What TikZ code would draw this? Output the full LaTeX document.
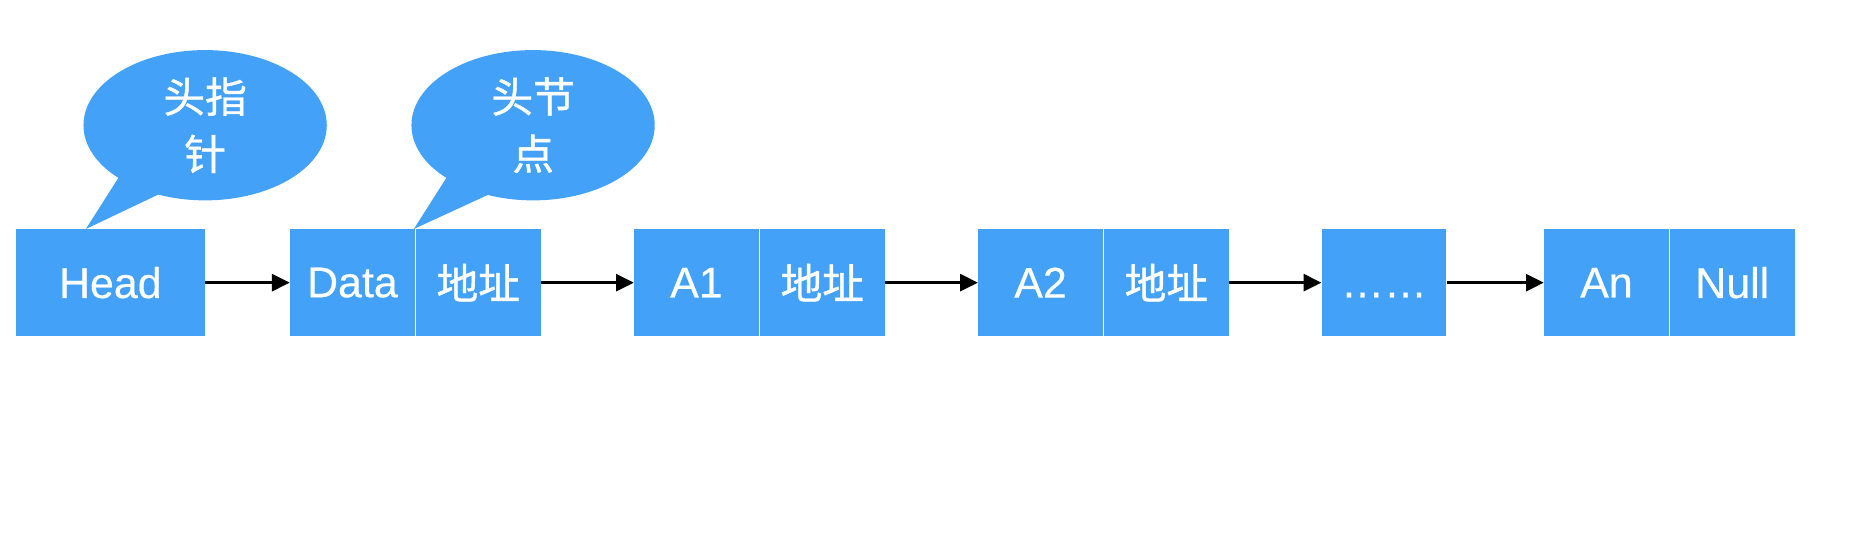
\documentclass[tikz,border=0pt]{standalone}
\usepackage{fontspec}
\setmainfont[FakeBold=0.4]{Liberation Sans}
\newfontfamily\cjk[FakeBold=1]{Noto Sans CJK SC}
\usetikzlibrary{shapes.geometric,arrows.meta}
\definecolor{cellblue}{RGB}{67,162,248}
\begin{document}
\begin{tikzpicture}[x=1pt,y=-1pt,
  cell/.style={fill=cellblue,text=white,inner sep=0pt,minimum width=104.5pt,minimum height=90pt,font=\fontsize{36}{40}\selectfont},
  cjkcell/.style={cell,font=\cjk\fontsize{35}{40}\selectfont},
  bubble/.style={ellipse,fill=cellblue,text=white,inner sep=0pt,minimum width=204pt,minimum height=126pt,align=center,font=\cjk\fontsize{35}{48}\selectfont},
  link/.style={line width=3pt,-{Triangle[length=15pt,width=14pt]}}]
\useasboundingbox (0,0) rectangle (1568,461);
% cells
\node[cell,minimum width=159pt] (head) at (92.5,237) {Head};
\node[cell] (data) at (295.5,237) {Data};
\node[cjkcell] (addr1) at (401,237) {地址};
\node[cell] (a1) at (584,237) {A1};
\node[cjkcell] (addr2) at (689.5,237) {地址};
\node[cell] (a2) at (872.5,237) {A2};
\node[cjkcell] (addr3) at (978,237) {地址};
\node[cell] (dots) at (1160.5,237) {\vphantom{H}……};
\node[cell] (an) at (1347,237) {An};
\node[cell] (null) at (1452.5,237) {Null};
% links
\draw[link] (head.east) -- (data.west);
\draw[link] (addr1.east) -- (a1.west);
\draw[link] (addr2.east) -- (a2.west);
\draw[link] (addr3.east) -- (dots.west);
\draw[link] (dots.east) -- (an.west);
% bubbles
\node[bubble] (bub1) at (172,105) {头指\\针};
\fill[cellblue] ([shift={(-72,43)}]bub1.center) -- ([shift={(-100,87)}]bub1.center) -- ([shift={(-39,58)}]bub1.center) -- cycle;
\node[bubble] (bub2) at (447,105) {头节\\点};
\fill[cellblue] ([shift={(-72,43)}]bub2.center) -- ([shift={(-100,87)}]bub2.center) -- ([shift={(-37,58)}]bub2.center) -- cycle;
\end{tikzpicture}
\end{document}
